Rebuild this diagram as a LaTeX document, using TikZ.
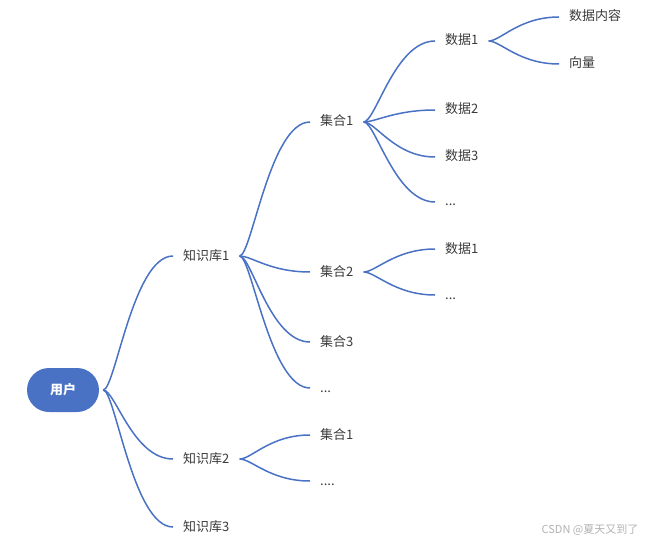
\documentclass[tikz,border=0pt]{standalone}
\usepackage{fontspec}
\newfontfamily\cjk{Noto Sans CJK SC}
\definecolor{mapblue}{HTML}{4A72C4}
\definecolor{mapgray}{HTML}{3A3A3A}

\begin{document}
\begin{tikzpicture}[x=1pt,y=-1pt,
    topic/.style={anchor=west, inner xsep=10pt, inner ysep=3pt, text height=10pt, text depth=2pt,
      font=\cjk\fontsize{13}{15}\selectfont, text=mapgray},
    branch/.style={mapblue, line width=1.5pt}]
  \useasboundingbox (0,0) rectangle (652,545);
  % root
  \node[fill=mapblue, rounded corners=22pt, minimum width=72pt, minimum height=44pt,
    text=white, font=\cjk\bfseries\fontsize{13}{15}\selectfont] (user) at (63,390) {用户};
  \coordinate (userout) at ([xshift=4pt]user.east);
  % knowledge bases
  \node[topic] (kbA) at (173,256) {知识库1};
  \node[topic] (kbB) at (173,459) {知识库2};
  \node[topic] (kbC) at (173,527) {知识库3};
  % sets
  \node[topic] (setA) at (310,122) {集合1};
  \node[topic] (setB) at (310,272) {集合2};
  \node[topic] (setC) at (310,342) {集合3};
  \node[topic] (setD) at (310,388) {...};
  \node[topic] (kbBsetA) at (310,435) {集合1};
  \node[topic] (kbBsetD) at (310,481) {....};
  % data
  \node[topic] (dataA) at (435,41) {数据1};
  \node[topic] (dataB) at (435,110) {数据2};
  \node[topic] (dataC) at (435,157) {数据3};
  \node[topic] (dataD) at (435,202) {...};
  \node[topic] (setBdataA) at (435,249) {数据1};
  \node[topic] (setBdataD) at (435,295) {...};
  % leaves
  \node[topic] (content) at (559,17) {数据内容};
  \node[topic] (vector) at (559,64) {向量};

  \foreach \k in {kbA,kbB,kbC}
    \draw[branch] (userout) .. controls +(12,0) and +(-40,0) .. (\k.west);
  \foreach \src/\dst in {kbA/setA,kbA/setB,kbA/setC,kbA/setD,kbB/kbBsetA,kbB/kbBsetD,
      setA/dataA,setA/dataB,setA/dataC,setA/dataD,setB/setBdataA,setB/setBdataD,
      dataA/content,dataA/vector}
    \draw[branch] (\src.east) .. controls +(12,0) and +(-40,0) .. (\dst.west);

  \node[font=\cjk\fontsize{11}{13}\selectfont, text=black!30] (mark) at (590,530) {CSDN @夏天又到了};
\end{tikzpicture}
\end{document}
